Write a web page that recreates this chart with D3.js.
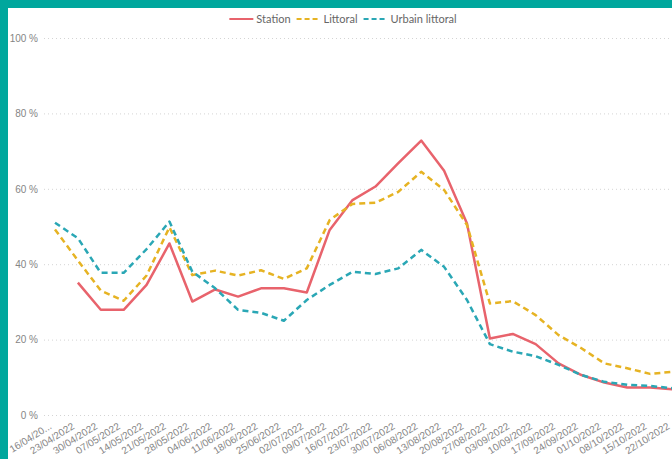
<!DOCTYPE html>
<html>
<head>
<meta charset="utf-8">
<script src="https://cdn.jsdelivr.net/npm/d3@7"></script>
<style>
    html, body { margin: 0; padding: 0; background: #00a79d; overflow: hidden; }
    svg { display: block; font-family: "Segoe UI", Lato, "Noto Sans", sans-serif; }
    .grid line { stroke: #d4d4d4; stroke-dasharray: 1 3; }
    .axis text { fill: #858585; }
    .legend text { fill: #666; }
</style>
</head>
<body>
<div id="holder"></div>
<script>
const dates = ["16/04/2022", "23/04/2022", "30/04/2022", "07/05/2022", "14/05/2022", "21/05/2022", "28/05/2022",
    "04/06/2022", "11/06/2022", "18/06/2022", "25/06/2022", "02/07/2022", "09/07/2022", "16/07/2022",
    "23/07/2022", "30/07/2022", "06/08/2022", "13/08/2022", "20/08/2022", "27/08/2022", "03/09/2022",
    "10/09/2022", "17/09/2022", "24/09/2022", "01/10/2022", "08/10/2022", "15/10/2022", "22/10/2022"];

const station = [null, 35.1, 27.9, 27.9, 34.5, 45.5, 30.1, 33.3, 31.4, 33.6, 33.6, 32.5, 49.1, 57.0,
    60.6, 66.8, 72.8, 64.8, 50.8, 20.3, 21.5, 18.8, 13.7, 10.6, 8.6, 7.3, 7.3, 6.8];
const littoral = [49.2, 41.0, 33.0, 30.3, 37.0, 49.8, 37.1, 38.3, 37.0, 38.4, 36.1, 38.9, 51.7, 56.0,
    56.3, 59.2, 64.5, 59.7, 50.4, 29.6, 30.2, 26.5, 21.2, 17.7, 13.7, 12.4, 10.9, 11.5];
const urbain = [51.0, 46.9, 37.7, 37.7, 44.0, 51.3, 38.0, 33.6, 27.9, 27.1, 25.0, 30.5, 34.5, 38.0,
    37.4, 38.9, 43.8, 39.3, 30.5, 18.8, 16.8, 15.6, 13.3, 10.6, 8.8, 8.0, 7.7, 7.1];

const yTicks = [0, 20, 40, 60, 80, 100];

const series = [
    {name: "Station", values: station, color: "#e8636c", dash: null},
    {name: "Littoral", values: littoral, color: "#e6b323", dash: "6 4"},
    {name: "Urbain littoral", values: urbain, color: "#2aa7b5", dash: "6 4"}
];

const w = 672, h = 459;

const svg = d3.select('#holder')
    .append('svg')
    .attr('width', w)
    .attr('height', h);

// white panel inside the teal frame
svg.append('rect')
    .attr('x', 8).attr('y', 8)
    .attr('width', w).attr('height', h)
    .attr('fill', '#fff');

const xScale = d3.scalePoint()
    .domain(dates)
    .range([55, 673]);

const yScale = d3.scaleLinear()
    .domain([0, 100])
    .range([415, 38]);

// gridlines
svg.append('g')
    .attr('class', 'grid')
    .selectAll('line')
    .data(yTicks)
    .enter()
    .append('line')
    .attr('x1', 44)
    .attr('x2', w)
    .attr('y1', d => yScale(d) + 0.5)
    .attr('y2', d => yScale(d) + 0.5);

// y axis
const yAxis = d3.axisLeft(yScale)
    .tickValues(yTicks)
    .tickSize(0)
    .tickPadding(0)
    .tickFormat(d => d + " %");

svg.append('g')
    .attr('class', 'axis')
    .attr('transform', 'translate(38,0)')
    .call(yAxis)
    .call(g => g.select('.domain').remove())
    .selectAll('text')
    .style('font-size', '10px');

// x axis, rotated labels
const xAxis = d3.axisBottom(xScale)
    .tickSize(0)
    .tickFormat((d, i) => i === 0 ? "16/04/20..." : d);

svg.append('g')
    .attr('class', 'axis')
    .attr('transform', `translate(0,${yScale(0)})`)
    .call(xAxis)
    .call(g => g.select('.domain').remove())
    .selectAll('text')
    .style('font-size', '10px')
    .style('text-anchor', 'end')
    .attr('dy', '0.35em')
    .attr('transform', 'translate(-5,10) rotate(-32)')
    .attr('y', 0)
    .attr('x', 0);

// lines
const line = d3.line()
    .defined(d => d.v != null)
    .x(d => xScale(d.date))
    .y(d => yScale(d.v));

series.forEach(s => {
    svg.append('path')
        .datum(dates.map((date, i) => ({date, v: s.values[i]})))
        .attr('fill', 'none')
        .attr('stroke', s.color)
        .attr('stroke-width', 2.5)
        .attr('stroke-linejoin', 'round')
        .attr('stroke-dasharray', s.dash)
        .attr('d', line);
});

// legend
const legend = svg.append('g').attr('class', 'legend');
let lx = 0;
series.forEach(s => {
    const item = legend.append('g').attr('transform', `translate(${lx},0)`);
    item.append('line')
        .attr('x1', 0).attr('x2', 24)
        .attr('y1', 0).attr('y2', 0)
        .attr('stroke', s.color)
        .attr('stroke-width', 2)
        .attr('stroke-dasharray', s.dash ? "5 3" : null);
    const t = item.append('text')
        .attr('x', 27)
        .attr('dy', '0.35em')
        .style('font-size', '11px')
        .text(s.name);
    lx += 27 + t.node().getComputedTextLength() + 6;
});
legend.attr('transform', `translate(${343 - (lx - 6) / 2},19)`);
</script>
</body>
</html>
